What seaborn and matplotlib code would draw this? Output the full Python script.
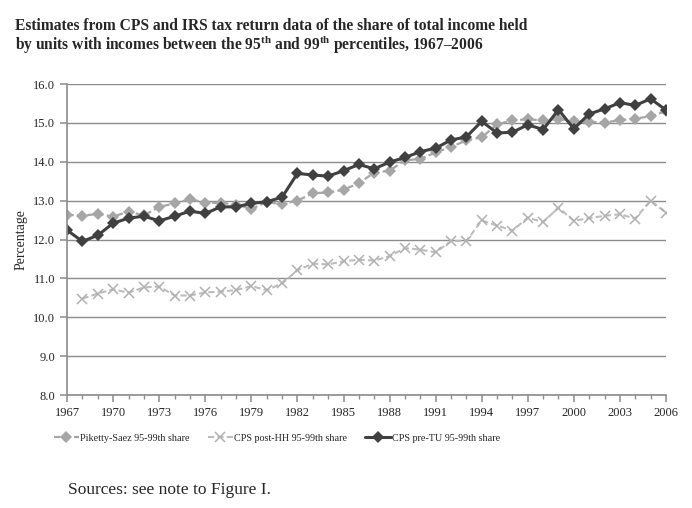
import numpy as np
import pandas as pd
import matplotlib
matplotlib.use("Agg")
import matplotlib.pyplot as plt
import seaborn as sns
from matplotlib.ticker import MultipleLocator

# Data
years = list(range(1967, 2007))

piketty_saez = [12.64, 12.61, 12.66, 12.59, 12.72, 12.62, 12.84, 12.93, 13.04, 12.95,
                12.94, 12.90, 12.79, 12.96, 12.91, 13.00, 13.19, 13.21, 13.28, 13.45,
                13.72, 13.77, 14.04, 14.07, 14.24, 14.38, 14.55, 14.63, 14.96, 15.07,
                15.09, 15.07, 15.10, 15.05, 15.03, 15.01, 15.07, 15.11, 15.17, 15.30]

cps_post_hh = [np.nan, 10.48, 10.61, 10.72, 10.63, 10.77, 10.79, 10.56, 10.56, 10.64,
               10.66, 10.70, 10.80, 10.70, 10.87, 11.21, 11.38, 11.36, 11.44, 11.48,
               11.46, 11.57, 11.78, 11.74, 11.67, 11.96, 11.96, 12.49, 12.36, 12.23,
               12.56, 12.45, 12.82, 12.48, 12.55, 12.61, 12.65, 12.54, 13.00, 12.69]

cps_pre_tu = [12.24, 11.95, 12.11, 12.42, 12.55, 12.60, 12.48, 12.60, 12.73, 12.67,
              12.84, 12.84, 12.93, 12.97, 13.09, 13.70, 13.66, 13.63, 13.77, 13.93,
              13.82, 13.99, 14.11, 14.26, 14.35, 14.56, 14.64, 15.04, 14.74, 14.76,
              14.95, 14.83, 15.34, 14.85, 15.23, 15.36, 15.52, 15.45, 15.62, 15.33]

series_names = ["Piketty-Saez 95-99th share", "CPS post-HH 95-99th share", "CPS pre-TU 95-99th share"]

df = pd.DataFrame({"year": years, "ps": piketty_saez, "hh": cps_post_hh, "tu": cps_pre_tu})

sns.set_style("white")
plt.rcParams["font.family"] = ["Liberation Serif", "DejaVu Serif"]
plt.rcParams["mathtext.fontset"] = "custom"
plt.rcParams["mathtext.rm"] = "Liberation Serif"
plt.rcParams["mathtext.bf"] = "Liberation Serif:bold"

fig = plt.figure(figsize=(6.92, 5.08), dpi=100)
ax = fig.add_axes([0.097, 0.2224, 0.8654, 0.6122])

sns.lineplot(data=df, x="year", y="ps", ax=ax, color="#a6a6a6", linestyle=(0, (3, 1.5)),
             linewidth=1.6, marker="D", markersize=6, markeredgewidth=0, label=series_names[0])
sns.lineplot(data=df, x="year", y="hh", ax=ax, color="#bdbdbd", linestyle=(0, (3, 1.5)),
             linewidth=1.5, marker="x", markersize=7, markeredgewidth=1.1,
             markeredgecolor="#b0b0b0", label=series_names[1])
sns.lineplot(data=df, x="year", y="tu", ax=ax, color="#404040", linestyle="-",
             linewidth=2.2, marker="D", markersize=6, markeredgewidth=0, label=series_names[2])

ax.set_xlim(1967, 2006)
ax.set_ylim(8, 16)
ax.set_xticks(list(range(1967, 2007, 3)))
ax.xaxis.set_minor_locator(MultipleLocator(1))
ax.set_yticks(np.arange(8, 16.5, 1))
ax.set_yticklabels([f"{v:.1f}" for v in np.arange(8, 16.5, 1)])
ax.yaxis.grid(True, color="#8c8c8c", linewidth=1.0)
ax.set_axisbelow(True)

for side in ["top", "right"]:
    ax.spines[side].set_visible(False)
for side in ["left", "bottom"]:
    ax.spines[side].set_color("#8c8c8c")
    ax.spines[side].set_linewidth(1.2)

ax.tick_params(axis="both", which="major", labelsize=9, direction="out", length=5,
               color="#8c8c8c", width=1.1, bottom=True, left=True)
ax.tick_params(axis="x", which="minor", direction="out", length=3, color="#8c8c8c",
               width=1.0, bottom=True)
ax.set_xlabel("")
ax.set_ylabel("Percentage", fontsize=10)
ax.yaxis.set_label_coords(-0.066, 0.5)

ax.get_legend().remove()
handles, labels = ax.get_legend_handles_labels()
fig.legend(handles, labels, loc="center", bbox_to_anchor=(0.40, 0.137), ncol=3,
           frameon=False, fontsize=7.3, handlelength=2.5, columnspacing=1.8, handletextpad=0.1)

fig.text(0.022, 0.965,
         "Estimates from CPS and IRS tax return data of the share of total income held\n"
         "by units with incomes between the 95$^{\\mathbf{th}}$ and 99$^{\\mathbf{th}}$ percentiles, 1967\u20132006",
         fontsize=11.2, fontweight="bold", ha="left", va="top", linespacing=1.0)

fig.text(0.098, 0.02, "Sources: see note to Figure I.", fontsize=12.5, ha="left", va="bottom")

fig.savefig("out.png", dpi=100)
